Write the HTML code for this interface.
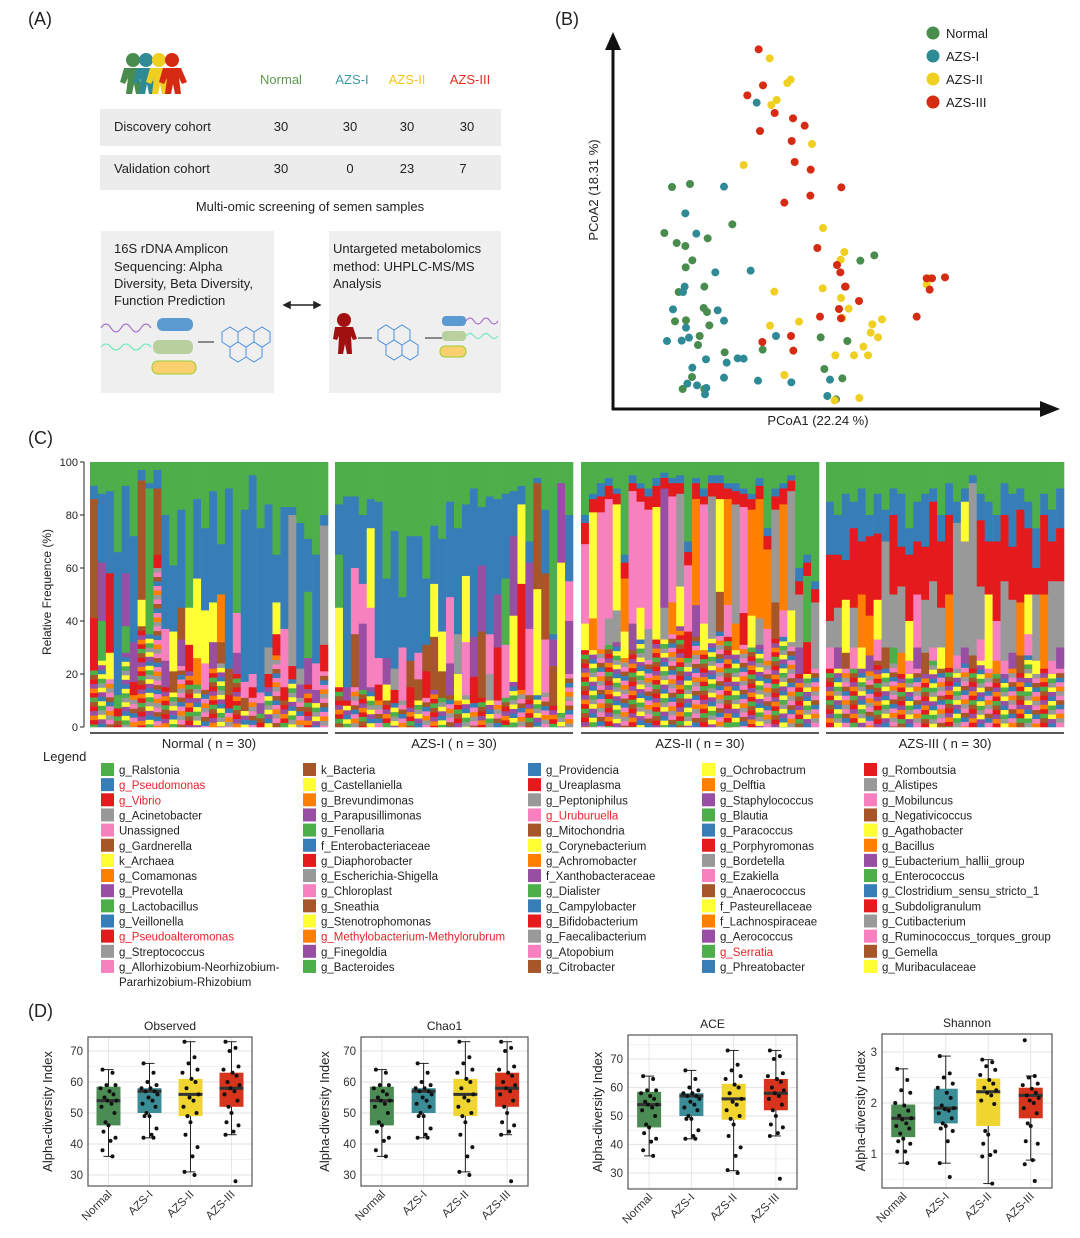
<!DOCTYPE html>
<html><head><meta charset="utf-8">
<style>
body{margin:0;background:#fff;font-family:"Liberation Sans",sans-serif;}
#root{position:relative;width:1080px;height:1238px;overflow:hidden;background:#fff;}
svg{position:absolute;left:0;top:0;}
text{font-family:"Liberation Sans",sans-serif;}
</style></head>
<body>
<div id="root">
<svg id="fig" width="1080" height="1238" viewBox="0 0 1080 1238">
<!-- Panel A -->
<g>
<text x="28" y="25" font-size="18" fill="#222">(A)</text>
<g>
<g fill="#4a8c4e"><circle cx="133" cy="60" r="7"/><path d="M124 68h18l6 14-5 2-3-6 2 16-6 0-2-10-2 10-6 0 2-16-3 6-5-2z"/></g>
<g fill="#2e8b95"><circle cx="146" cy="60" r="7"/><path d="M137 68h18l6 14-5 2-3-6 2 16-6 0-2-10-2 10-6 0 2-16-3 6-5-2z"/></g>
<g fill="#efcf22"><circle cx="159" cy="60" r="7"/><path d="M150 68h18l6 14-5 2-3-6 2 16-6 0-2-10-2 10-6 0 2-16-3 6-5-2z"/></g>
<g fill="#d52b12"><circle cx="172" cy="60" r="7"/><path d="M163 68h18l6 14-5 2-3-6 2 16-6 0-2-10-2 10-6 0 2-16-3 6-5-2z"/></g>
</g>
<text x="281" y="84" font-size="13" fill="#5b9a4c" text-anchor="middle">Normal</text>
<text x="352" y="84" font-size="13" fill="#3c9aa5" text-anchor="middle">AZS-I</text>
<text x="407" y="84" font-size="13" fill="#f5c518" text-anchor="middle">AZS-II</text>
<text x="470" y="84" font-size="13" fill="#e0301e" text-anchor="middle">AZS-III</text>
<rect x="100" y="109" width="401" height="37" fill="#ececec"/>
<rect x="100" y="155" width="401" height="35" fill="#ececec"/>
<g font-size="13" fill="#222">
<text x="114" y="131">Discovery  cohort</text><text x="281" y="131" text-anchor="middle">30</text><text x="350" y="131" text-anchor="middle">30</text><text x="407" y="131" text-anchor="middle">30</text><text x="467" y="131" text-anchor="middle">30</text>
<text x="114" y="173">Validation  cohort</text><text x="281" y="173" text-anchor="middle">30</text><text x="350" y="173" text-anchor="middle">0</text><text x="407" y="173" text-anchor="middle">23</text><text x="463" y="173" text-anchor="middle">7</text>
</g>
<text x="310" y="211" font-size="13" fill="#222" text-anchor="middle">Multi-omic screening of semen samples</text>
<rect x="101" y="231" width="173" height="162" fill="#efefef"/>
<rect x="329" y="231" width="172" height="162" fill="#efefef"/>
<g font-size="13" fill="#222">
<text x="114" y="253">16S rDNA Amplicon</text><text x="114" y="271">Sequencing: Alpha</text><text x="114" y="288">Diversity, Beta Diversity,</text><text x="114" y="305">Function Prediction</text>
<text x="333" y="253">Untargeted metabolomics</text><text x="333" y="271">method: UHPLC-MS/MS</text><text x="333" y="288">Analysis</text>
</g>
<g stroke="#222" stroke-width="1.5"><line x1="284" y1="305" x2="320" y2="305"/><path d="M284 305l6-3v6z M320 305l-6-3v6z" fill="#222"/></g>
<g>
<path d="M101 328q5-8 10 0t10 0 10 0 10 0 10 0" stroke="#9b59c6" fill="none"/>
<rect x="157" y="318" width="36" height="13" rx="6" fill="#5b9bd1"/>
<path d="M101 347q5-6 10 0t10 0 10 0 10 0 10 0" stroke="#5ee8b0" fill="none"/>
<rect x="153" y="340" width="40" height="14" rx="6" fill="#b8d09e"/>
<rect x="152" y="361" width="44" height="13" rx="6" fill="#f9cf70" stroke="#9acd32"/>
<line x1="198" y1="342" x2="214" y2="342" stroke="#222"/>
<g stroke="#4a90e2" fill="none"><path d="M222 332l8-5 8 5v10l-8 5-8-5z M238 332l8-5 8 5v10l-8 5-8-5z M254 332l8-5 8 5v10l-8 5-8-5z M230 347l8-5 8 5v10l-8 5-8-5z M246 347l8-5 8 5v10l-8 5-8-5z"/></g>
</g>
<g>
<circle cx="344" cy="320" r="7" fill="#a01010"/><path d="M335 327h18l4 12-4 1-2-4 1 18-5 0-2-10-2 10-5 0 1-18-2 4-4-1z" fill="#a01010"/>
<line x1="358" y1="338" x2="372" y2="338" stroke="#222"/>
<g stroke="#4a90e2" fill="none"><path d="M378 330l8-5 8 5v10l-8 5-8-5z M394 330l8-5 8 5v10l-8 5-8-5z M386 345l8-5 8 5v10l-8 5-8-5z M402 345l8-5 8 5v10l-8 5-8-5z"/></g>
<line x1="425" y1="338" x2="442" y2="338" stroke="#222"/>
<rect x="442" y="316" width="24" height="10" rx="4" fill="#5b9bd1"/><rect x="442" y="331" width="24" height="10" rx="4" fill="#b8d09e"/>
<rect x="440" y="346" width="26" height="11" rx="5" fill="#f9cf70" stroke="#9acd32"/>
<path d="M466 321q4-6 8 0t8 0 8 0 8 0" stroke="#9b59c6" fill="none"/><path d="M466 336q4-5 8 0t8 0 8 0 8 0" stroke="#5ee8b0" fill="none"/>
</g>
</g>
<!-- Panel B -->
<g>
<text x="555" y="25" font-size="18" fill="#222">(B)</text>
<g stroke="#111" stroke-width="3" fill="#111">
<line x1="613" y1="410" x2="613" y2="45"/><path d="M605 50l8-18 8 18z" stroke="none"/>
<line x1="612" y1="409" x2="1045" y2="409"/><path d="M1040 401l20 8-20 8z" stroke="none"/>
</g>
<text x="0" y="0" font-size="13" fill="#222" text-anchor="middle" transform="translate(598,190) rotate(-90)">PCoA2 (18.31 %)</text>
<text x="818" y="425" font-size="13" fill="#222" text-anchor="middle">PCoA1 (22.24 %)</text>
<g id="pcoaPts"></g>
<g id="pcoaLegend"></g>
</g>
<!-- Panel C -->
<g>
<text x="28" y="444" font-size="18" fill="#222">(C)</text>
<text x="0" y="0" font-size="12" fill="#222" text-anchor="middle" transform="translate(51,592) rotate(-90)">Relative Frequence (%)</text>
<g id="stackAxis"></g>
<g id="stackBars"></g>
<text x="43" y="761" font-size="13" fill="#222">Legend</text>
<g id="taxLegend"></g>
</g>
<!-- Panel D -->
<g>
<text x="28" y="1017" font-size="18" fill="#222">(D)</text>
<g id="boxes"></g>
</g>
</svg>
</div>
<script>
const NS="http://www.w3.org/2000/svg";
function mk(tag,attrs,parent){const e=document.createElementNS(NS,tag);for(const k in attrs)e.setAttribute(k,attrs[k]);parent.appendChild(e);return e;}

/* ---------- Panel B data ---------- */
const pcoaGroups=["Normal","AZS-I","AZS-II","AZS-III"];
const pcoaColors=["#4a8c4e","#2e8b95","#efcf22","#d52b12"];
const pc1Normal=[276,330,457,253,290,316,383,337,317,373,296,371,381,285,318,388,359,354,434,548,336,308,373,722,802,733,787,841,883,768];
const pc2Normal=[501,492,613,639,669,678,655,721,742,800,816,864,876,904,901,916,948,975,997,989,1071,1107,1107,952,963,1047,1075,722,706,1138];
const pc1AZS1=[432,316,349,406,512,314,309,279,413,432,318,261,305,327,588,378,440,473,491,337,432,534,634,322,351,379,375,750,742,530];
const pc2AZS1=[500,580,641,757,752,800,816,868,871,902,923,963,962,953,948,1018,1028,1015,1016,1043,1073,1082,1087,1091,1096,1104,1123,1079,1128,248];
const pc1AZS2=[569,632,622,590,574,696,491,729,793,782,728,583,783,806,787,570,657,877,906,872,894,850,766,822,864,613,838,764,1040,1048];
const pc2AZS2=[115,179,189,240,255,372,435,624,696,719,805,815,834,866,894,917,905,913,898,938,952,980,1006,1006,1006,1065,1134,1141,793,775];
const pc1AZS3=[536,549,502,584,639,674,540,635,644,692,784,691,613,712,771,781,795,797,837,777,720,783,633,547,640,1010,1040,1056,1095,1049];
const pc2AZS3=[88,196,226,279,295,317,333,363,426,449,502,527,548,684,735,757,800,800,843,867,890,895,948,966,992,890,775,775,772,809];
const pcX=v=>580+v/3, pcY=v=>20+v/3;
(function(){
  const g=document.getElementById('pcoaPts');
  const sets=[[pc1Normal,pc2Normal],[pc1AZS1,pc2AZS1],[pc1AZS2,pc2AZS2],[pc1AZS3,pc2AZS3]];
  sets.forEach((s,gi)=>{s[0].forEach((v,i)=>{
    const c=mk('circle',{cx:pcX(v),cy:pcY(s[1][i]),r:4,fill:pcoaColors[gi]},g);
    
    
  });});
  const L=document.getElementById('pcoaLegend');
  pcoaGroups.forEach((n,i)=>{
    const c=mk('circle',{cx:933,cy:33+i*23,r:6.5,fill:pcoaColors[i]},L);
    
    
    const t=mk('text',{x:946,y:38+i*23,'font-size':13,fill:'#222'},L);t.textContent=n;
    
    
  });
})();

/* ---------- Panel C data ---------- */
const pal={g:"#4daf4a",b:"#377eb8",r:"#e41a1c",a:"#999999",k:"#f781bf",n:"#a65628",y:"#ffff33",o:"#ff7f00",p:"#984ea3"};
const stackGroups=["Normal ( n = 30)","AZS-I  ( n = 30)","AZS-II  ( n = 30)","AZS-III  ( n = 30)"];
const greenN=[9,12,11,34,9,28,3,8,3,20,39,18,55,14,25,11,31,10,57,18,5,25,16,35,17,17,23,29,35,20];
const blueN=[5,26,31,54,33,40,4,2,7,43,25,37,0,30,31,42,19,68,0,65,75,62,54,18,46,3,55,20,41,4];
const m1N=[45,22,30,5,20,15,45,50,25,12,15,12,14,30,20,15,18,10,15,6,5,4,10,12,22,57,6,25,10,45];
const c1N="nprgppngnkynyyyyonkkkkaykaagka";
const m2N=[18,15,10,5,10,5,10,5,5,10,8,10,10,10,10,10,8,5,8,5,4,4,5,8,5,5,5,10,5,10];
const c2N="rgyrgrygrpnprokpnrpnrprrrrpppr";
const greenI=[16,13,13,20,14,15,44,26,51,28,28,44,24,29,15,25,16,10,17,13,14,12,11,9,30,6,18,65,8,20];
const blueI=[19,72,27,26,11,59,30,52,19,47,44,25,22,35,36,40,27,56,22,52,36,32,17,7,8,2,24,2,0,25];
const m1I=[20,5,25,15,30,10,10,8,12,10,10,10,20,15,25,15,25,15,25,15,20,25,30,30,25,40,25,10,30,15];
const c1I="gpkkykpaknknyykayppkpgpypnnppk";
const m2I=[30,2,20,25,30,6,6,5,8,6,8,10,20,10,12,10,20,10,25,10,20,20,25,40,25,40,20,15,55,20];
const c2I="yrnpkryrkrnrnnpykrnarkyrkyknyp";
const greenII=[20,12,8,6,10,35,5,8,10,6,4,6,5,30,6,10,5,5,8,8,10,12,6,25,10,8,5,40,35,45];
const blueII=[3,2,5,3,2,3,3,2,3,3,2,2,3,4,2,3,3,3,2,3,2,2,3,3,3,2,2,5,3,3];
const m1II=[8,5,6,5,4,6,3,5,5,8,4,5,4,5,6,3,5,6,4,5,5,4,5,5,5,6,4,5,5,5];
const c1II="rrrrrrrrrrrrrrrrrrrrrrrrrrrrrr";
const m2II=[30,40,35,45,40,20,50,40,45,35,45,40,35,25,40,45,40,35,40,45,40,40,45,30,35,40,45,20,25,15];
const c2II="kykkyokkkypkakokayoakoooaoaaga";
const m3II=[10,12,15,10,12,10,10,12,10,15,12,12,15,10,12,10,12,15,12,10,12,12,10,12,12,10,12,10,12,10];
const c3II="yokaaypyayaoyrpyankoryaknkypra";
const greenIII=[15,20,12,15,10,20,12,18,10,12,25,15,12,10,20,8,15,10,5,12,15,20,8,12,10,15,25,12,18,10];
const blueIII=[20,15,25,10,20,8,15,12,10,20,10,15,20,5,10,12,8,5,3,10,15,10,12,20,8,10,15,8,12,15];
const m1III=[25,20,15,30,20,30,25,20,30,15,25,20,20,30,25,30,30,15,10,25,20,30,25,20,35,25,10,30,15,20];
const c1III="rrrrrrrarrrrrrrrayarrrrrrrrrrr";
const m2III=[10,15,20,15,20,15,15,20,20,25,15,20,20,25,15,20,20,40,55,20,20,15,30,20,20,15,25,20,30,25];
const c2III="aayaooyaaaykaaaoaaaaykaaoyaoaa";
const m3III=[8,8,6,8,8,6,8,8,6,8,5,8,8,5,8,6,5,6,5,8,8,5,5,6,5,8,5,8,5,8];
const c3III="kpnkypkngokpnkyokpnkyokpnkyokp";
const yTicksC=[0,20,40,60,80,100];
const yC=v=>727-(v/100)*265;
(function(){
  const ax=document.getElementById('stackAxis');
  mk('line',{x1:84,y1:yC(0),x2:84,y2:yC(100),stroke:'#222'},ax);
  yTicksC.forEach(t=>{
    mk('line',{x1:80,y1:yC(t),x2:84,y2:yC(t),stroke:'#222'},ax);
    const tx=mk('text',{x:78,y:yC(t)+4,'font-size':11,fill:'#222','text-anchor':'end'},ax);tx.textContent=t;
    
    
  });
  const groups=[
    [greenN,blueN,[[m1N,c1N],[m2N,c2N]]],
    [greenI,blueI,[[m1I,c1I],[m2I,c2I]]],
    [greenII,blueII,[[m1II,c1II],[m2II,c2II],[m3II,c3II]]],
    [greenIII,blueIII,[[m1III,c1III],[m2III,c2III],[m3III,c3III]]]
  ];
  const px0=[90,335,581,826], pw=238;
  const stripeSeq="rykgponbarykpgnoab";
  const B=document.getElementById('stackBars');
  groups.forEach((gr,gi)=>{
    const g=mk('g',{},B);
    
    
    const bw=pw/30;
    gr[0].forEach((gv,i)=>{
      const x=px0[gi]+i*bw;
      const segs=[];
      let top=100;
      segs.push([top-gv,top,'g']);top-=gv;
      const bv=gr[1][i];segs.push([top-bv,top,'b']);top-=bv;
      gr[2].forEach(m=>{const v=Math.min(m[0][i],Math.max(top-4,0));segs.push([top-v,top,m[1][i]||'r']);top-=v;});
      let k=i%stripeSeq.length;
      while(top>0){const h=Math.min(1.7,top);segs.push([top-h,top,stripeSeq[k%stripeSeq.length]]);top-=h;k+=3;}
      segs.forEach(s=>{
        if(s[1]-s[0]<=0)return;
        const r=mk('rect',{x:x.toFixed(2),y:yC(s[1]).toFixed(2),width:(bw+0.3).toFixed(2),height:(yC(s[0])-yC(s[1])+0.3).toFixed(2),fill:pal[s[2]]},g);
        
        
      });
    });
    mk('line',{x1:px0[gi],y1:733,x2:px0[gi]+pw,y2:733,stroke:'#222','stroke-width':1.5},g);
    const t=mk('text',{x:px0[gi]+pw/2,y:748,'font-size':13,fill:'#222','text-anchor':'middle'},g);t.textContent=stackGroups[gi];
    
    
  });
  // taxa legend
  const taxa=["g_Ralstonia","g_Pseudomonas","g_Vibrio","g_Acinetobacter","Unassigned","g_Gardnerella","k_Archaea","g_Comamonas","g_Prevotella","g_Lactobacillus","g_Veillonella","g_Pseudoalteromonas","g_Streptococcus","g_Allorhizobium-Neorhizobium-|Pararhizobium-Rhizobium",
  "k_Bacteria","g_Castellaniella","g_Brevundimonas","g_Parapusillimonas","g_Fenollaria","f_Enterobacteriaceae","g_Diaphorobacter","g_Escherichia-Shigella","g_Chloroplast","g_Sneathia","g_Stenotrophomonas","g_Methylobacterium-Methylorubrum","g_Finegoldia","g_Bacteroides",
  "g_Providencia","g_Ureaplasma","g_Peptoniphilus","g_Uruburuella","g_Mitochondria","g_Corynebacterium","g_Achromobacter","f_Xanthobacteraceae","g_Dialister","g_Campylobacter","g_Bifidobacterium","g_Faecalibacterium","g_Atopobium","g_Citrobacter",
  "g_Ochrobactrum","g_Delftia","g_Staphylococcus","g_Blautia","g_Paracoccus","g_Porphyromonas","g_Bordetella","g_Ezakiella","g_Anaerococcus","f_Pasteurellaceae","f_Lachnospiraceae","g_Aerococcus","g_Serratia","g_Phreatobacter",
  "g_Romboutsia","g_Alistipes","g_Mobiluncus","g_Negativicoccus","g_Agathobacter","g_Bacillus","g_Eubacterium_hallii_group","g_Enterococcus","g_Clostridium_sensu_stricto_1","g_Subdoligranulum","g_Cutibacterium","g_Ruminococcus_torques_group","g_Gemella","g_Muribaculaceae"];
  const redTaxa=["g_Pseudomonas","g_Vibrio","g_Pseudoalteromonas","g_Methylobacterium-Methylorubrum","g_Uruburuella","g_Serratia"];
  const cyc="gbrakny op".replace(' ','');
  const colX=[101,303,528,702,864];
  const L=document.getElementById('taxLegend');
  taxa.forEach((name,i)=>{
    const col=Math.floor(i/14),row=i%14;
    const x=colX[col],y=763+row*15.15;
    const sq=mk('rect',{x:x,y:y,width:13,height:13,fill:pal[cyc[i%9]]},L);
    
    
    const parts=name.split('|');
    parts.forEach((p,j)=>{
      const t=mk('text',{x:x+18,y:y+11+j*15,'font-size':11.5,fill:redTaxa.includes(name)?'#e8232b':'#222'},L);t.textContent=p;
      
      
    });
  });
})();

/* ---------- Panel D data ---------- */
const boxCats=["Normal","AZS-I","AZS-II","AZS-III"];
const boxColors=["#4a8c54","#3a8c96","#f0d430","#d8341d"];
const obsQ1=[46,50,49,52], obsMed=[54,57,56,58], obsQ3=[58.5,58,61,63], obsLo=[36,42,31,43], obsHi=[64,66,73,73];
const aceQ1=[46,50,48.7,52], aceMed=[54,57,56,58], aceQ3=[58.5,58,61.3,63], aceLo=[36,42,30.8,43], aceHi=[64,66,73,73];
const obsPtsN=[64,63,59,59,58,57,56,55,54,54,53,52,50,47,46,44,42,41,38,36];
const obsPtsI=[66,63,60,59,58,58,57,57,56,55,54,53,52,50,49,49,45,43,42,42];
const obsPtsII=[73,68,66,64,63,61,60,58,56,55,54,52,50,49,47,43,39,36,31,30];
const obsPtsIII=[73,71,70,65,64,63,62,60,59,58,57,56,54,52,50,47,46,44,43,28];
const shQ1=[1.33,1.6,1.55,1.7], shMed=[1.7,1.9,2.22,2.15], shQ3=[1.97,2.28,2.48,2.3], shLo=[0.82,0.82,0.42,0.88], shHi=[2.67,2.92,2.85,2.53];
const shPtsN=[2.67,2.45,2.25,2.2,2.0,1.95,1.85,1.75,1.7,1.68,1.6,1.55,1.5,1.4,1.3,1.25,1.2,1.05,1.05,0.82];
const shPtsI=[2.92,2.58,2.5,2.38,2.3,2.2,2.1,1.95,1.9,1.88,1.85,1.8,1.7,1.6,1.55,1.5,1.45,1.25,0.82,0.55];
const shPtsII=[2.85,2.8,2.72,2.65,2.55,2.45,2.38,2.3,2.25,2.2,2.15,2.05,1.98,1.45,1.38,1.2,1.05,0.98,0.95,0.42];
const shPtsIII=[3.23,2.53,2.5,2.38,2.35,2.28,2.2,2.15,2.1,2.05,2.0,1.9,1.8,1.6,1.55,1.25,1.2,0.88,0.8,0.47];
const ticksCount=[30,40,50,60,70], ticksSh=[1,2,3];
(function(){
  const jit=[-6,4,-2,7,-8,1,5,-4,8,-1,3,-7,6,-3,0,-5,7,2,-6,4];
  const panels=[
    {title:"Observed",l:88,r:252,t:1037,b:1186,v0:30,p0:1175,v1:70,p1:1051,q:[obsQ1,obsMed,obsQ3,obsLo,obsHi],pts:[obsPtsN,obsPtsI,obsPtsII,obsPtsIII],ticks:ticksCount,tx:42},
    {title:"Chao1",l:361,r:528,t:1037,b:1186,v0:30,p0:1175,v1:70,p1:1051,q:[obsQ1,obsMed,obsQ3,obsLo,obsHi],pts:[obsPtsN,obsPtsI,obsPtsII,obsPtsIII],ticks:ticksCount,tx:319},
    {title:"ACE",l:628,r:797,t:1035,b:1189,v0:30,p0:1173,v1:70,p1:1059,q:[aceQ1,aceMed,aceQ3,aceLo,aceHi],pts:[obsPtsN,obsPtsI,obsPtsII,obsPtsIII],ticks:ticksCount,tx:592},
    {title:"Shannon",l:882,r:1052,t:1034,b:1188,v0:1,p0:1154,v1:3,p1:1052,q:[shQ1,shMed,shQ3,shLo,shHi],pts:[shPtsN,shPtsI,shPtsII,shPtsIII],ticks:ticksSh,tx:855}
  ];
  const root=document.getElementById('boxes');
  panels.forEach(P=>{
    const g=mk('g',{},root);
    
    
    const y=v=>P.p0+(v-P.v0)*(P.p1-P.p0)/(P.v1-P.v0);
    const step=(P.r-P.l)/4;
    const x=i=>P.l+step*(i+0.5);
    mk('rect',{x:P.l,y:P.t,width:P.r-P.l,height:P.b-P.t,fill:'#fff'},g);
    const tstep=P.ticks[1]-P.ticks[0];
    P.ticks.forEach(t=>{
      mk('line',{x1:P.l,x2:P.r,y1:y(t),y2:y(t),stroke:'#e6e6e6','stroke-width':1.2},g);
      const m=y(t+tstep/2); if(m>P.t) mk('line',{x1:P.l,x2:P.r,y1:m,y2:m,stroke:'#f2f2f2'},g);
      const mm=y(t-tstep/2); if(mm<P.b) mk('line',{x1:P.l,x2:P.r,y1:mm,y2:mm,stroke:'#f2f2f2'},g);
      const tx=mk('text',{x:P.l-5,y:y(t)+4,'font-size':11.5,fill:'#333','text-anchor':'end'},g);tx.textContent=t;
      
      
    });
    boxCats.forEach((c,i)=>{
      mk('line',{x1:x(i),x2:x(i),y1:P.t,y2:P.b,stroke:'#e6e6e6'},g);
    });
    boxCats.forEach((c,i)=>{
      const bw=24;
      mk('line',{x1:x(i),x2:x(i),y1:y(P.q[3][i]),y2:y(P.q[4][i]),stroke:'#222'},g);
      mk('line',{x1:x(i)-5,x2:x(i)+5,y1:y(P.q[3][i]),y2:y(P.q[3][i]),stroke:'#222'},g);
      mk('line',{x1:x(i)-5,x2:x(i)+5,y1:y(P.q[4][i]),y2:y(P.q[4][i]),stroke:'#222'},g);
      const bx=mk('rect',{x:x(i)-bw/2,y:y(P.q[2][i]),width:bw,height:y(P.q[0][i])-y(P.q[2][i]),fill:boxColors[i]},g);
      
      
      mk('line',{x1:x(i)-bw/2,x2:x(i)+bw/2,y1:y(P.q[1][i]),y2:y(P.q[1][i]),stroke:'#333','stroke-width':3},g);
      P.pts[i].forEach((v,j)=>{
        const d=mk('circle',{cx:x(i)+jit[j],cy:y(v),r:2,fill:'#111'},g);
        
        
      });
      const lt=mk('text',{x:0,y:0,'font-size':11.5,fill:'#333','text-anchor':'end',transform:`translate(${x(i)+4},${P.b+9}) rotate(-45)`},g);lt.textContent=c;
      
      
    });
    mk('rect',{x:P.l,y:P.t,width:P.r-P.l,height:P.b-P.t,fill:'none',stroke:'#555','stroke-width':1.2},g);
    const tt=mk('text',{x:(P.l+P.r)/2,y:P.t-7,'font-size':12,fill:'#222','text-anchor':'middle'},g);tt.textContent=P.title;
    
    
    const yt=mk('text',{x:0,y:0,'font-size':13,fill:'#222','text-anchor':'middle',transform:`translate(${P.tx+10},${(P.t+P.b)/2}) rotate(-90)`},g);yt.textContent="Alpha-diversity Index";
    
    
  });
})();
</script>
</body></html>
